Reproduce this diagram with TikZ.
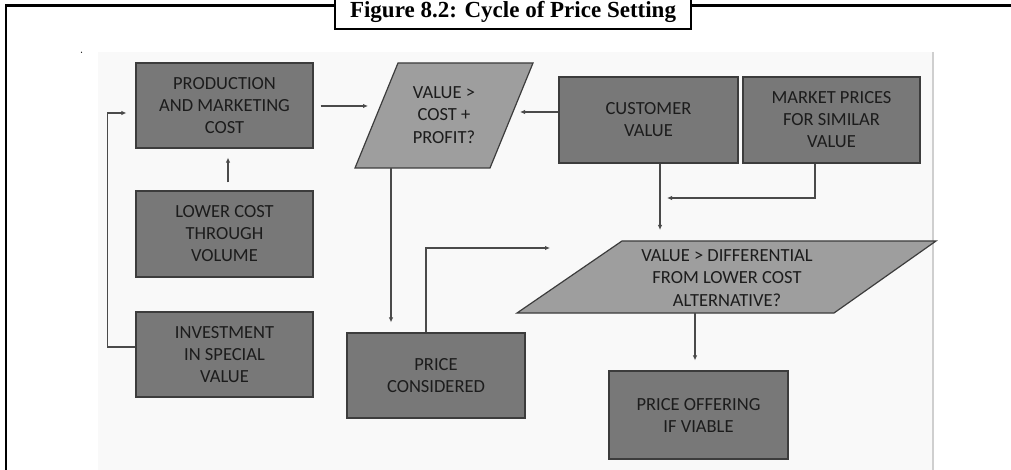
\documentclass[tikz,border=0pt]{standalone}
\usepackage{fontspec}
\newfontfamily\boxfont{Carlito}
\newfontfamily\titlefont{Liberation Serif}
\usetikzlibrary{arrows.meta}
\definecolor{boxgray}{HTML}{787878}
\definecolor{paragray}{HTML}{9E9E9E}
\definecolor{edgegray}{HTML}{3C3C3C}
\definecolor{linegray}{HTML}{4A4A4A}
\definecolor{panelbg}{HTML}{F9F9F9}
\definecolor{paneledge}{HTML}{CFCFCF}
\definecolor{txt}{HTML}{1C1C1C}
\begin{document}
\begin{tikzpicture}[x=1pt,y=-1pt,
  box/.style={draw=edgegray,line width=1.2pt,fill=boxgray,inner sep=0pt,align=center,
    font=\boxfont\fontsize{18.5}{22}\selectfont,text=txt},
  ptext/.style={inner sep=0pt,align=center,font=\boxfont\fontsize{18.5}{22.5}\selectfont,text=txt},
  para/.style={draw=edgegray,line width=1.2pt,fill=paragray,line join=miter},
  arr/.style={draw=linegray,line width=1.4pt,-{Latex[length=5pt,width=4.5pt]}},
  titlebox/.style={draw=black,line width=2pt,fill=white,inner sep=0pt,
    minimum width=356pt,minimum height=39pt},
  titletext/.style={inner sep=0pt,anchor=base,font=\titlefont\bfseries\fontsize{23}{27}\selectfont},
  frame/.style={draw=black,line width=2.5pt}
]
\useasboundingbox (0,0) rectangle (1011,470);
% outer frame and title
\draw[frame] (6,471) -- (6,5.5) -- (1012,5.5);
\node[titlebox] (title) at (513,9.5) {};
\node[titletext] (titlet) at (513,17.5) {Figure 8.2: Cycle of Price Setting};
% panel
\fill[panelbg] (98,52) rectangle (933,471);
\draw[paneledge,line width=2pt] (933,52) -- (933,471);
\fill[black] (81.5,52.3) circle (0.7pt);
% parallelograms
\draw[para] (355,168) -- (490,168) -- (533,63) -- (398,63) -- cycle;
\draw[para] (517,313) -- (834,313) -- (936,241) -- (622,241) -- cycle;
\node[ptext] (p1) at (444,115) {VALUE >\\COST +\\PROFIT?};
\node[ptext] (p2) at (727,278) {VALUE > DIFFERENTIAL\\FROM LOWER COST\\ALTERNATIVE?};
% boxes
\node[box,minimum width=177pt,minimum height=85pt] (prod) at (224.5,105.5) {PRODUCTION\\AND MARKETING\\COST};
\node[box,minimum width=177pt,minimum height=86pt] (lower) at (224.5,234) {LOWER COST\\THROUGH\\VOLUME};
\node[box,minimum width=177pt,minimum height=85pt] (invest) at (224.5,354.5) {INVESTMENT\\IN SPECIAL\\VALUE};
\node[box,minimum width=179pt,minimum height=86pt] (cust) at (648.5,120) {CUSTOMER\\VALUE};
\node[box,minimum width=177pt,minimum height=86pt] (market) at (831.5,120) {MARKET PRICES\\FOR SIMILAR\\VALUE};
\node[box,minimum width=178pt,minimum height=85pt] (pricecons) at (436,375.5) {PRICE\\CONSIDERED};
\node[box,minimum width=179pt,minimum height=88pt] (offer) at (698.5,415) {PRICE OFFERING\\IF VIABLE};
% connector end points
\coordinate (p1in) at (368,106);
\coordinate (p1r) at (520,112);
\coordinate (p1b) at (391,168);
\coordinate (p2top) at (660,230);
\coordinate (join) at (667,198);
\coordinate (p2in) at (550,248);
\coordinate (p2b) at (695,313);
% connectors
\draw[arr,shorten <=8pt,shorten >=9pt] ([xshift=3.5pt]lower.north) -- ([xshift=3.5pt]prod.south);
\draw[arr,shorten >=9pt] ([yshift=7.5pt]invest.west) -- ++(-28pt,0) |- ([yshift=-7.5pt]prod.west);
\draw[arr] ([xshift=7pt]prod.east |- p1in) -- (p1in);
\draw[arr] (cust.west |- p1r) -- (p1r);
\draw[arr] ([xshift=11.5pt]cust.south) -- (p2top);
\draw[arr] ([xshift=-16.5pt]market.south) |- (join);
\draw[arr,shorten >=10pt] (p1b) -- (p1b |- pricecons.north);
\draw[arr] ([xshift=-10pt]pricecons.north) |- (p2in);
\draw[arr,shorten >=10pt] (p2b) -- (p2b |- offer.north);
\end{tikzpicture}
\end{document}
